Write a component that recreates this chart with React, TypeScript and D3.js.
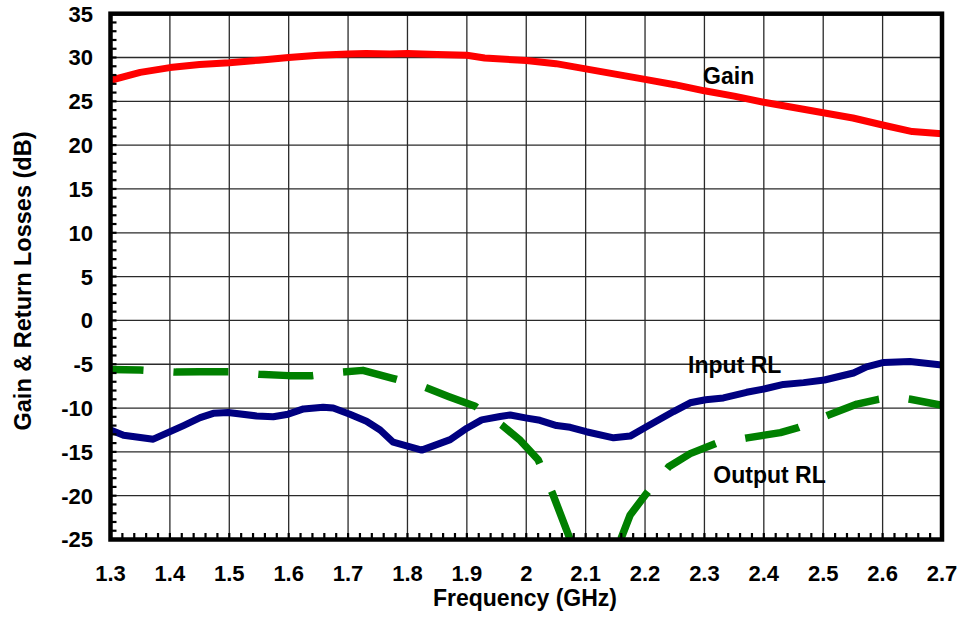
import React from "react";
import * as d3 from "d3";

const gainFreq = [1.30,1.35,1.40,1.45,1.50,1.55,1.60,1.65,1.70,1.73,1.77,1.80,1.85,1.90,1.93,2.00,2.05,2.10,2.15,2.20,2.25,2.30,2.35,2.40,2.45,2.50,2.55,2.60,2.65,2.70];
const gainDb = [27.4,28.3,28.85,29.2,29.4,29.7,30.0,30.25,30.4,30.45,30.4,30.45,30.35,30.25,29.95,29.65,29.3,28.7,28.1,27.5,26.9,26.2,25.6,24.9,24.3,23.7,23.1,22.3,21.55,21.3];

const inFreq = [1.30,1.322,1.372,1.423,1.451,1.473,1.498,1.546,1.574,1.599,1.625,1.658,1.675,1.703,1.731,1.754,1.776,1.824,1.872,1.900,1.925,1.956,1.973,2.001,2.023,2.051,2.074,2.101,2.147,2.175,2.201,2.248,2.276,2.302,2.332,2.371,2.402,2.433,2.467,2.502,2.551,2.573,2.602,2.646,2.70];
const inDb = [-12.5,-13.1,-13.55,-12.0,-11.1,-10.6,-10.5,-10.9,-11.0,-10.7,-10.1,-9.9,-10.0,-10.7,-11.5,-12.5,-13.9,-14.8,-13.6,-12.3,-11.35,-10.96,-10.8,-11.15,-11.4,-12.0,-12.2,-12.7,-13.4,-13.2,-12.2,-10.4,-9.4,-9.05,-8.85,-8.2,-7.8,-7.3,-7.1,-6.8,-6.0,-5.3,-4.8,-4.7,-5.1];

const outFreq = [1.30,1.35,1.41,1.45,1.50,1.55,1.60,1.64,1.69,1.725,1.775,1.83,1.87,1.914,1.96,1.99,2.02,2.044,2.074,2.095,2.115,2.14,2.159,2.175,2.203,2.24,2.276,2.321,2.372,2.428,2.459,2.509,2.557,2.593,2.62,2.647,2.70];
const outDb = [-5.6,-5.65,-5.9,-5.85,-5.85,-6.15,-6.3,-6.3,-5.9,-5.7,-6.6,-7.65,-8.7,-9.8,-12.0,-13.7,-15.9,-19.7,-25,-29,-31,-28.5,-25,-22.2,-19.7,-16.7,-15.2,-14.0,-13.4,-12.8,-12.2,-10.8,-9.55,-9.0,-8.7,-9.0,-9.7];

const xTicks = [1.3,1.4,1.5,1.6,1.7,1.8,1.9,2.0,2.1,2.2,2.3,2.4,2.5,2.6,2.7];
const yTicks = [35,30,25,20,15,10,5,0,-5,-10,-15,-20,-25];

const seriesLabels = [
  { text: "Gain", f: 2.2977, db: 27.0 },
  { text: "Input RL", f: 2.2725, db: -6.0 },
  { text: "Output RL", f: 2.315, db: -18.55 },
];

const FONT = "'Liberation Sans', Arial, Helvetica, sans-serif";

export default function App() {
  const W = 963, H = 625;
  const L = 110.5, R = 942, T = 13.7, B = 539.5;
  const x = d3.scaleLinear().domain([1.3, 2.7]).range([L, R]);
  const y = d3.scaleLinear().domain([-25, 35]).range([B, T]);

  const line = d3.line<[number, number]>().x(d => x(d[0])).y(d => y(d[1])).curve(d3.curveLinear);
  const gainPath = line(gainFreq.map((f, i) => [f, gainDb[i]]))!;
  const inPath = line(inFreq.map((f, i) => [f, inDb[i]]))!;
  const outPath = line(outFreq.map((f, i) => [f, outDb[i]]))!;

  const xMinor = d3.range(1.3, 2.7001, 0.02);
  const yMinor = d3.range(-25, 35.001, 1);

  return (
    <svg width={W} height={H} style={{ position: "absolute", left: 0, top: 0, background: "#fff" }} fontFamily={FONT}>
      <defs>
        <clipPath id="plot">
          <rect x={L} y={T} width={R - L} height={B - T} />
        </clipPath>
      </defs>
      <rect x={0} y={0} width={W} height={H} fill="#fff" />
      {/* grid */}
      {xTicks.map(t => (
        <line key={"gx" + t} x1={x(t)} x2={x(t)} y1={T} y2={B} stroke="#2a2a2a" strokeWidth={1.3} />
      ))}
      {yTicks.map(t => (
        <line key={"gy" + t} x1={L} x2={R} y1={y(t)} y2={y(t)} stroke="#2a2a2a" strokeWidth={1.3} />
      ))}
      {/* series */}
      <g clipPath="url(#plot)" fill="none" strokeLinejoin="round">
        <path d={gainPath} stroke="#ff0000" strokeWidth={7} />
        <path d={inPath} stroke="#000080" strokeWidth={7} />
        <path d={outPath} stroke="#008000" strokeWidth={7.5} strokeDasharray="55 30" strokeDashoffset={22} strokeLinecap="butt" />
      </g>
      {/* minor ticks */}
      {yMinor.map(t => (
        <line key={"my" + t} x1={L} x2={L + 6} y1={y(t)} y2={y(t)} stroke="#000" strokeWidth={2.2} />
      ))}
      {xMinor.map(t => (
        <line key={"mx" + t} x1={x(t)} x2={x(t)} y1={B} y2={B - 6.5} stroke="#000" strokeWidth={2.2} />
      ))}
      {/* frame */}
      <rect x={L} y={T} width={R - L} height={B - T} fill="none" stroke="#000" strokeWidth={4.5} />
      {/* tick labels */}
      {yTicks.map(t => (
        <text key={"ly" + t} x={93} y={y(t)} dy="0.36em" textAnchor="end" fontSize={22} fontWeight="bold" fill="#000">{t}</text>
      ))}
      {xTicks.map(t => (
        <text key={"lx" + t} x={x(t)} y={581} textAnchor="middle" fontSize={22} fontWeight="bold" fill="#000">{d3.format("")(+t.toFixed(1))}</text>
      ))}
      {/* axis titles */}
      <text x={525} y={606} textAnchor="middle" fontSize={23} fontWeight="bold" fill="#000">Frequency (GHz)</text>
      <text transform={`translate(31,281) rotate(-90)`} textAnchor="middle" fontSize={23.5} fontWeight="bold" fill="#000">Gain &amp; Return Losses (dB)</text>
      {/* series labels */}
      {seriesLabels.map(s => (
        <text key={s.text} x={x(s.f)} y={y(s.db)} fontSize={23} fontWeight="bold" fill="#000">{s.text}</text>
      ))}
    </svg>
  );
}
